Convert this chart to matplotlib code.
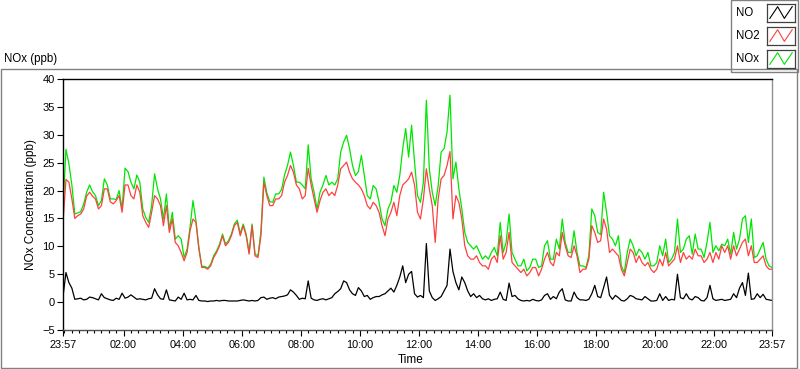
import numpy as np
import matplotlib
matplotlib.use("Agg")
import matplotlib.pyplot as plt
from matplotlib.patches import Rectangle

# readings every 6 minutes starting 23:57 (ppb)
no2 = [
    14.2, 22.0, 21.5, 18.5, 15.0, 15.5, 15.8, 16.7, 19.0, 19.7,
    19.0, 18.5, 16.7, 17.3, 20.3, 20.3, 18.0, 17.6, 18.2, 19.1,
    16.1, 21.0, 21.0, 19.1, 18.5, 21.0, 19.7, 15.5, 14.3, 13.4,
    16.1, 19.1, 18.5, 17.3, 13.7, 17.3, 12.5, 14.9, 10.7, 10.1,
    8.9, 7.4, 8.9, 12.8, 14.9, 14.3, 9.5, 6.2, 6.2, 5.9,
    6.5, 8.0, 8.9, 10.1, 11.9, 10.1, 10.7, 11.9, 13.7, 14.3,
    11.9, 13.7, 11.9, 8.6, 13.7, 8.3, 8.0, 11.9, 21.5, 19.1,
    17.3, 17.3, 18.5, 18.5, 19.1, 21.5, 22.7, 24.5, 23.3, 21.0,
    20.3, 18.5, 19.1, 24.0, 21.0, 18.5, 16.1, 18.2, 19.7, 20.3,
    19.1, 19.7, 19.1, 21.0, 23.9, 24.5, 25.1, 23.3, 22.1, 21.5,
    21.0, 20.3, 19.1, 17.3, 16.7, 17.9, 17.3, 16.1, 13.7, 11.9,
    14.9, 16.1, 17.9, 15.5, 19.1, 21.0, 21.5, 22.1, 23.3, 21.0,
    16.1, 14.9, 18.5, 23.9, 20.3, 17.3, 10.7, 18.5, 22.1, 22.7,
    24.5, 27.0, 14.9, 19.1, 17.9, 14.9, 10.1, 8.3, 7.7, 7.7,
    8.3, 7.1, 6.5, 6.5, 5.9, 7.7, 8.3, 7.1, 11.9, 7.7,
    8.9, 12.5, 7.1, 6.5, 5.9, 5.3, 5.9, 4.7, 5.3, 6.2,
    6.2, 4.7, 5.9, 7.7, 8.9, 7.1, 6.5, 8.9, 8.3, 12.5,
    10.1, 8.3, 8.0, 10.1, 8.3, 5.3, 5.9, 5.9, 7.7, 13.7,
    12.5, 10.7, 11.0, 14.9, 13.1, 8.9, 9.5, 8.9, 8.3, 5.9,
    4.7, 7.1, 9.5, 8.9, 7.1, 8.3, 7.1, 6.5, 7.1, 5.9,
    5.3, 5.9, 7.7, 6.5, 8.9, 6.5, 7.1, 7.7, 10.1, 7.1,
    8.9, 7.7, 8.3, 7.7, 9.5, 8.3, 8.3, 7.1, 7.7, 8.9,
    7.1, 8.9, 7.7, 10.1, 8.9, 10.1, 7.7, 10.1, 8.3, 9.5,
    10.7, 11.3, 8.3, 10.1, 7.1, 7.1, 7.7, 8.3, 6.5, 5.9,
    5.9,
]

nox = [
    16.7, 27.4, 24.8, 21.0, 15.8, 16.0, 16.2, 17.6, 19.7, 21.0,
    19.8, 19.1, 17.3, 18.2, 22.1, 21.0, 18.5, 18.5, 18.4, 20.0,
    16.7, 24.0, 23.4, 21.5, 20.3, 22.8, 21.5, 16.7, 15.2, 14.3,
    17.3, 23.0, 20.3, 18.5, 14.9, 19.4, 13.1, 16.1, 11.3, 11.9,
    11.3, 8.0, 9.5, 13.4, 18.2, 14.6, 9.8, 6.4, 6.4, 6.1,
    6.8, 8.3, 9.2, 10.4, 12.2, 10.4, 11.0, 12.2, 14.0, 14.7,
    12.3, 14.0, 12.2, 8.9, 14.0, 8.6, 8.3, 12.7, 22.4, 19.6,
    18.0, 17.9, 19.4, 19.4, 20.2, 22.8, 24.5, 26.9, 24.5, 21.5,
    21.5, 21.0, 20.3, 28.2, 22.1, 19.7, 16.7, 19.7, 21.0, 22.7,
    21.0, 21.5, 21.0, 22.1, 26.9, 28.7, 29.9, 27.5, 24.5, 22.7,
    23.4, 26.3, 22.7, 19.1, 18.5, 20.9, 20.3, 17.9, 14.9, 13.7,
    16.7, 17.9, 20.9, 19.7, 22.7, 27.5, 31.1, 26.0, 31.7, 25.1,
    19.1, 17.9, 21.5, 36.2, 23.9, 19.7, 17.3, 20.9, 26.9, 27.5,
    30.5, 37.1, 22.1, 25.1, 20.3, 16.7, 12.5, 10.7, 10.1, 9.5,
    10.1, 8.9, 7.7, 8.3, 7.7, 8.9, 9.8, 8.3, 14.3, 8.9,
    10.7, 15.8, 8.9, 7.7, 6.5, 6.5, 7.7, 5.6, 6.2, 7.7,
    7.7, 6.2, 6.5, 10.1, 11.0, 7.7, 7.7, 11.3, 9.5, 14.9,
    10.7, 8.9, 8.9, 12.8, 8.9, 6.5, 6.5, 6.2, 8.3, 16.7,
    15.5, 12.5, 12.1, 19.7, 16.1, 11.9, 11.3, 10.1, 11.9, 6.5,
    5.3, 8.9, 11.3, 10.1, 8.3, 9.5, 8.9, 7.7, 8.9, 6.5,
    6.5, 7.1, 10.1, 8.3, 11.3, 7.1, 7.7, 8.9, 14.9, 8.9,
    9.5, 11.3, 11.9, 8.6, 12.2, 9.5, 9.5, 8.0, 10.7, 14.3,
    8.9, 10.1, 9.2, 10.4, 10.1, 11.3, 8.6, 12.5, 9.5, 11.3,
    14.9, 15.5, 10.7, 14.9, 8.0, 8.3, 9.5, 10.7, 7.7, 6.5,
    6.2,
]

no = [
    1.0, 5.3, 3.5, 2.5, 0.5, 0.6, 0.7, 0.4, 0.5, 0.9,
    0.8, 0.6, 0.4, 1.5, 0.8, 0.6, 0.4, 0.3, 0.7, 0.5,
    1.6, 0.7, 0.9, 1.3, 0.9, 0.5, 0.6, 0.5, 0.4, 0.6,
    0.7, 2.4, 1.3, 0.6, 0.5, 2.2, 0.4, 0.3, 0.2, 0.9,
    0.5, 1.6, 0.4, 0.5, 0.4, 1.2, 0.3, 0.2, 0.2, 0.1,
    0.2, 0.2, 0.3, 0.2, 0.3, 0.3, 0.2, 0.2, 0.2, 0.2,
    0.3, 0.4, 0.3, 0.2, 0.3, 0.2, 0.3, 0.8, 0.9, 0.5,
    0.7, 0.8, 0.6, 0.9, 1.0, 1.1, 1.3, 2.2, 1.8, 1.2,
    0.5, 0.7, 0.6, 3.8, 0.7, 0.4, 0.3, 0.5, 0.6, 0.4,
    0.6, 0.8, 1.5, 1.9, 2.4, 3.8, 3.5, 2.2, 1.5, 1.2,
    2.6, 2.0, 1.0, 1.2, 0.5, 0.8, 1.0, 1.0, 1.3, 1.5,
    2.0, 2.5, 1.8, 3.0, 4.5, 6.5, 3.5, 5.0, 5.5, 1.5,
    0.9, 1.2, 0.8, 10.5, 2.0, 0.8, 0.3, 0.6, 1.0, 2.0,
    3.0, 9.5, 5.5, 3.5, 2.2, 4.5, 3.5, 2.0, 1.0, 1.5,
    0.8, 1.2, 0.6, 0.4, 0.6, 0.3, 0.5, 0.6, 1.8, 0.5,
    0.3, 3.4, 1.0, 1.2, 0.6, 0.3, 0.2, 0.3, 0.2, 0.5,
    0.3, 0.2, 0.4, 1.2, 1.5, 0.5, 1.0, 0.6, 1.8, 2.4,
    0.4, 0.2, 0.2, 1.8, 0.8, 0.4, 0.4, 0.3, 0.5, 1.5,
    3.0, 1.0, 0.8, 2.6, 4.5, 1.2, 0.5, 1.2, 0.8, 0.3,
    0.2, 0.6, 1.2, 1.0, 0.6, 0.5, 0.4, 1.0, 0.6, 0.2,
    0.2, 0.3, 1.5, 0.3, 1.0, 0.3, 0.5, 0.4, 5.0, 0.8,
    0.6, 1.5, 0.6, 0.4, 1.0, 0.8, 0.3, 0.2, 0.8, 3.0,
    0.6, 0.3, 0.4, 0.5, 0.3, 0.4, 0.5, 1.5, 0.8, 2.5,
    3.5, 1.2, 5.2, 0.5, 0.6, 1.5, 0.8, 1.4, 0.5, 0.4,
    0.3,
]

tick_minutes = [0, 123, 243, 363, 483, 603, 723, 843, 963, 1083, 1203, 1323, 1440]
tick_labels = ["23:57", "02:00", "04:00", "06:00", "08:00", "10:00", "12:00",
               "14:00", "16:00", "18:00", "20:00", "22:00", "23:57"]
series_names = ["NO", "NO2", "NOx"]
series_colors = ["#000000", "#ff4040", "#00e600"]

W, H = 800, 369


def fx(px):
    return px / W


def fy(py):
    return 1 - py / H


def main():
    plt.rcParams['font.family'] = ['Liberation Sans', 'DejaVu Sans']
    t = np.arange(len(no2)) * 6

    fig = plt.figure(figsize=(8, 3.69), dpi=100)

    # panel frame
    fig.patches.append(Rectangle((fx(1), fy(368)), fx(796), 299 / H, transform=fig.transFigure,
                                 fill=False, edgecolor="#808080", lw=1.0))

    ax = fig.add_axes([fx(63), fy(330), fx(709), 251 / H])
    ax.plot(t, nox, color=series_colors[2], lw=0.9)
    ax.plot(t, no2, color=series_colors[1], lw=0.9)
    ax.plot(t, no, color=series_colors[0], lw=0.9)

    ax.set_xlim(0, 1440)
    ax.set_ylim(-5, 40)
    ax.set_yticks(range(-5, 41, 5))
    ax.set_xticks(tick_minutes)
    ax.set_xticklabels(tick_labels)
    ax.set_xticks(np.arange(3, 1440, 15), minor=True)
    ax.tick_params(axis='y', length=4, width=0.8, pad=2, labelsize=8)
    ax.tick_params(axis='x', which='major', length=4, width=0.8, pad=3, labelsize=7.8)
    ax.tick_params(axis='x', which='minor', length=2.5, width=0.8)

    ax.spines['left'].set_color('black')
    ax.spines['top'].set_color('black')
    ax.spines['bottom'].set_color('#505050')
    ax.spines['right'].set_color('#909090')
    for s in ax.spines.values():
        s.set_linewidth(1.0)

    fig.text(fx(4), fy(59), "NOx (ppb)", fontsize=8.3, va='center', ha='left')
    fig.text(fx(31), fy(205), "NOx Concentration (ppb)", fontsize=8.5, rotation=90,
             va='center', ha='center')
    fig.text(fx(411), fy(360), "Time", fontsize=8.5, va='center', ha='center')

    # legend
    fig.patches.append(Rectangle((fx(731), fy(72)), fx(67), 72 / H, transform=fig.transFigure,
                                 facecolor='white', edgecolor="#808080", lw=1.0, zorder=-1))
    rows = [13, 36, 59]
    for name, color, yc in zip(series_names, series_colors, rows):
        fig.text(fx(736), fy(yc), name, fontsize=8.3, va='center', ha='left')
        sw = fig.add_axes([fx(767), fy(yc + 9), fx(28), 18 / H])
        sw.set_zorder(10)
        sw.plot([0.1, 0.38, 0.62, 0.9], [0.2, 0.85, 0.2, 0.85], color=color, lw=0.8)
        sw.set_xlim(0, 1)
        sw.set_ylim(0, 1)
        sw.set_xticks([])
        sw.set_yticks([])
        for s in sw.spines.values():
            s.set_color('#404040')
            s.set_linewidth(0.9)

    fig.savefig("out.png", dpi=100)


if __name__ == "__main__":
    main()
